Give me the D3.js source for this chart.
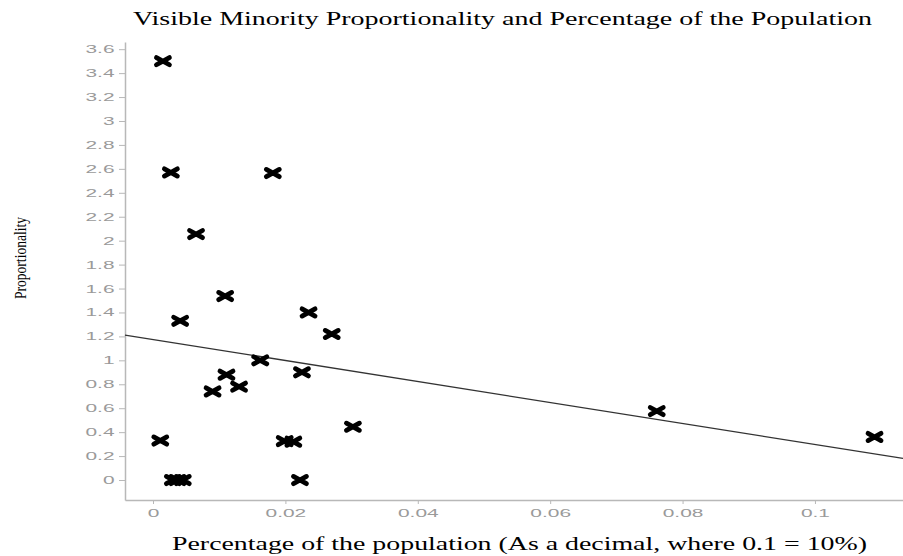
<!DOCTYPE html>
<html><head><meta charset="utf-8">
<script src="https://cdn.jsdelivr.net/npm/d3@7"></script>
<style>body{margin:0;background:#fff}</style>
</head><body>
<svg id="c" width="903" height="556"></svg>
<script>
const xValues = [0.0015,0.0027,0.0181,0.0065,0.0109,0.0041,0.0235,0.0270,0.0162,0.0225,0.0111,0.0090,0.0130,0.0011,0.0199,0.0212,0.0302,0.0222,0.0030,0.0037,0.0045,0.0761,0.1090];
const yValues = [3.50,2.57,2.565,2.055,1.537,1.33,1.40,1.22,1.00,0.90,0.88,0.74,0.78,0.33,0.325,0.32,0.445,0.00,0.00,0.00,0.00,0.576,0.36];
const xTicks = [0,0.02,0.04,0.06,0.08,0.1];
const yTicks = [0,0.2,0.4,0.6,0.8,1,1.2,1.4,1.6,1.8,2,2.2,2.4,2.6,2.8,3,3.2,3.4,3.6];
const fitIntercept = 1.174, fitSlope = -8.77;
const title = "Visible Minority Proportionality and Percentage of the Population";
const xTitle = "Percentage of the population (As a decimal, where 0.1 = 10%)";
const yTitle = "Proportionality";

const svg = d3.select("#c");
const x = d3.scaleLinear().domain([-0.00423, 0.1133]).range([125, 903]);
const y = d3.scaleLinear().domain([-0.167, 3.66]).range([500, 42]);
const grey = "#b8b8b8", tickText = "#9a9a9a";
const sx = 1.9;

const xa = svg.append("g").attr("transform","translate(0,500)")
  .call(d3.axisBottom(x).tickValues(xTicks).tickFormat(d=>String(d)).tickSize(4).tickSizeOuter(0));
const ya = svg.append("g").attr("transform","translate(125,0)")
  .call(d3.axisLeft(y).tickValues(yTicks).tickFormat(d=>String(d)).tickSize(6).tickSizeOuter(0));
[xa,ya].forEach(a=>{
  a.select(".domain").attr("stroke",grey).attr("stroke-width",1.5);
  a.selectAll(".tick line").attr("stroke",grey);
  a.selectAll(".tick text").attr("fill",tickText)
    .style("font-family","'Liberation Sans',Arial,sans-serif").style("font-size","11px")
    .attr("transform",`scale(${sx},1)`);
});
xa.selectAll(".tick text").attr("y",0).attr("dy","0").attr("dy",null).attr("y",17);
ya.selectAll(".tick text").attr("x",-10.5/sx);

svg.append("line")
  .attr("x1",x(-0.00423)).attr("y1",y(fitIntercept+fitSlope*-0.00423))
  .attr("x2",x(0.1133)).attr("y2",y(fitIntercept+fitSlope*0.1133))
  .attr("stroke","#333").attr("stroke-width",1.3);

const pts = xValues.map((v,i)=>[v,yValues[i]]);
svg.append("g").selectAll("path").data(pts).join("path")
  .attr("transform",d=>`translate(${x(d[0])},${y(d[1])})`)
  .attr("d","M-6.5,-3.6L6.5,3.6M-6.5,3.6L6.5,-3.6")
  .attr("stroke","#000").attr("stroke-width",4.8).attr("stroke-linecap","round").attr("fill","none");

svg.append("text").attr("x",502.5).attr("y",25).attr("text-anchor","middle")
  .attr("textLength",739).attr("lengthAdjust","spacingAndGlyphs")
  .style("font-family","'Liberation Serif','Times New Roman',serif").style("font-size","19px").text(title);
svg.append("text").attr("x",519.5).attr("y",550).attr("text-anchor","middle")
  .attr("textLength",695).attr("lengthAdjust","spacingAndGlyphs")
  .style("font-family","'Liberation Serif','Times New Roman',serif").style("font-size","18px").text(xTitle);
svg.append("text").attr("transform","translate(26,258) rotate(-90) scale(0.8,1)").attr("text-anchor","middle")
  .style("font-family","'Liberation Serif','Times New Roman',serif").style("font-size","17px").text(yTitle);
</script>
</body></html>
